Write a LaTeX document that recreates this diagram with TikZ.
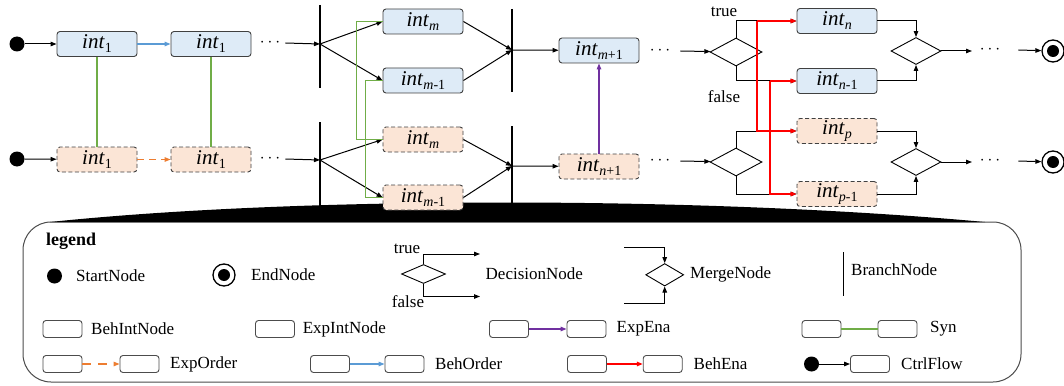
\documentclass[tikz,border=0pt]{standalone}
\usepackage{fontspec}
\setmainfont{Liberation Serif}
\usetikzlibrary{arrows.meta,shapes.geometric}

\definecolor{behfill}{RGB}{222,235,247}
\definecolor{expfill}{RGB}{251,229,214}
\definecolor{blueln}{RGB}{91,155,213}
\definecolor{orangeln}{RGB}{237,125,49}
\definecolor{greenln}{RGB}{112,173,71}
\definecolor{purpleln}{RGB}{112,48,160}

\newcommand{\intlab}[1]{\textit{int}\raisebox{-4pt}{\fontsize{14}{14}\selectfont#1}}

\begin{document}
\begin{tikzpicture}[x=1pt,y=-1pt]
\tikzstyle{every node}+=[inner sep=0pt]
\tikzstyle{lab}=[font=\fontsize{17}{19}\selectfont]
\tikzstyle{behbox}=[draw=black!75, fill=behfill, rounded corners=3pt, line width=0.9pt, minimum width=80pt, minimum height=25pt, font=\fontsize{21}{22}\selectfont]
\tikzstyle{expbox}=[behbox, fill=expfill, dash pattern=on 4pt off 2.5pt]
\tikzstyle{legbox}=[draw=black!70, fill=white, rounded corners=3pt, line width=0.9pt, minimum width=39pt, minimum height=17pt]
\tikzstyle{startnode}=[circle, fill=black, minimum size=15pt]
\tikzstyle{endnode}=[circle, draw=black, line width=1.3pt, fill=white, minimum size=22pt, path picture={\fill[black] (path picture bounding box.center) circle (6pt);}]
\tikzstyle{decision}=[diamond, draw=black, line width=0.9pt, minimum width=52pt, minimum height=28pt]
\tikzstyle{flow}=[-{Triangle[length=6pt,width=4.5pt]}, line width=1pt]
\tikzstyle{branchbar}=[line width=2pt]
\tikzstyle{behorder}=[flow, draw=blueln, line width=1.2pt]
\tikzstyle{exporder}=[flow, draw=orangeln, line width=1.2pt, dash pattern=on 7pt off 5pt]
\tikzstyle{expena}=[flow, draw=purpleln, line width=1.2pt]
\tikzstyle{behena}=[flow, draw=red, line width=1.4pt]
\tikzstyle{syn}=[draw=greenln, line width=1.8pt]
\useasboundingbox (0,0) rectangle (1064,385);

% legend frame
\draw [draw=black!70, fill=white, line width=1pt, rounded corners=28pt] (23,222) rectangle (1021,382);
\fill [black] (50,222) .. controls (300,196) and (700,196) .. (985,222) -- cycle;

% branch bars
\draw [branchbar] (320,5) -- (320,88);
\draw [branchbar] (512,9) -- (512,92);
\draw [branchbar] (320,122) -- (320,215);
\draw [branchbar] (512,126) -- (512,205);
\coordinate (j1) at (320,44);
\coordinate (j2) at (512,50);
\coordinate (j3) at (320,160);
\coordinate (j4) at (512,166);

% behaviour row
\node [startnode] (s1) at (17,44) {};
\node [behbox] (bA1) at (97,44) {\intlab{1}};
\node [behbox] (bA2) at (211,44) {\intlab{1}};
\node [lab] (dA1) at (270,43) {$\cdots$};
\node [behbox] (bm) at (423,21.5) {\intlab{\textit{m}}};
\node [behbox] (bm1) at (423,80.5) {\intlab{\textit{m}-1}};
\node [behbox] (bm2) at (599,50.5) {\intlab{\textit{m}+1}};
\node [lab] (dA2) at (660,51) {$\cdots$};
\node [decision] (decA) at (736,52) {};
\node [behbox] (bn) at (837,21) {\intlab{\textit{n}}};
\node [behbox] (bn1) at (837,81) {\intlab{\textit{n}-1}};
\node [decision, minimum width=50pt, minimum height=27pt] (merA) at (916,51) {};
\coordinate (oA) at (972,51);
\node [lab] (dA3) at (990,50) {$\cdots$};
\node [endnode] (eA) at (1053,51) {};
\node [lab] at (724,12) {true};
\node [lab] at (724,97) {false};

% expectation row
\node [startnode] (s2) at (17,159) {};
\node [expbox] (eA1) at (97,159.5) {\intlab{1}};
\node [expbox] (eA2) at (211,159.5) {\intlab{1}};
\node [lab] (dB1) at (270,159) {$\cdots$};
\node [expbox] (em) at (423,139.5) {\intlab{\textit{m}}};
\node [expbox] (em1) at (423,197.5) {\intlab{\textit{m}-1}};
\node [expbox] (em2) at (599,166.5) {\intlab{\textit{n}+1}};
\node [lab] (dB2) at (660,161) {$\cdots$};
\node [decision] (decB) at (736,162) {};
\node [expbox] (ep) at (837,131) {\intlab{\textit{p}}};
\node [expbox] (ep1) at (837,194) {\intlab{\textit{p}-1}};
\node [decision, minimum width=50pt, minimum height=27pt] (merB) at (916,162) {};
\coordinate (oB) at (972,162);
\node [lab] (dB3) at (990,161) {$\cdots$};
\node [endnode] (eB) at (1053,162) {};

% control flow
\draw [flow] (s1) -- (bA1);
\draw [behorder] (bA1) -- (bA2);
\draw [flow] ([xshift=5pt]dA1.east) -- (j1);
\draw [flow] (j1) -- (bm.west);
\draw [flow] (j1) -- (bm1.west);
\draw [flow] (bm.east) -- (j2);
\draw [flow] (bm1.east) -- (j2);
\draw [flow] (j2) -- (bm2);
\draw [flow] ([xshift=10pt]dA2.east) -- (decA);
\draw [flow] (decA.north) |- (bn.west);
\draw [flow] (decA.south) |- (bn1.west);
\draw [flow] (bn.east) -| (merA.north);
\draw [flow] (bn1.east) -| (merA.south);
\draw [flow] (merA) -- (oA);
\draw [flow] ([xshift=18pt]dA3.east) -- (eA);

\draw [flow] (s2) -- (eA1);
\draw [exporder] (eA1) -- (eA2);
\draw [flow] ([xshift=5pt]dB1.east) -- (j3);
\draw [flow] (j3) -- (em.west);
\draw [flow] (j3) -- (em1.west);
\draw [flow] (em.east) -- (j4);
\draw [flow] (em1.east) -- (j4);
\draw [flow] (j4) -- (em2);
\draw [flow] ([xshift=10pt]dB2.east) -- (decB);
\draw [flow] (decB.north) |- (ep.west);
\draw [flow] (decB.south) |- (ep1.west);
\draw [flow] (ep.east) -| (merB.north);
\draw [flow] (ep1.east) -| (merB.south);
\draw [flow] (merB) -- (oB);
\draw [flow] ([xshift=18pt]dB3.east) -- (eB);

% synchronisation and enabling
\draw [syn] (bA1) -- (eA1);
\draw [syn] (bA2) -- (eA2);
\draw [syn] (bm.west) -- ++(-26,0) |- (em.west);
\draw [syn] (bm1.west) -- ++(-17,0) |- (em1.west);
\draw [expena] (em2) -- (bm2);
\coordinate (r1) at (757,21);
\coordinate (r2) at (770,81);
\draw [behena] (r1) -- (bn.west);
\draw [behena] (r1) |- (ep.west);
\draw [behena] (r2) -- (bn1.west);
\draw [behena] (r2) |- (ep1.west);

% legend
\node [anchor=west, font=\fontsize{18}{20}\selectfont\bfseries] at (46,241) {legend};
\node [startnode] (lst) at (54.5,276) {};
\node [lab, anchor=west] at (76,276) {StartNode};
\node [endnode] (len) at (224,275) {};
\node [lab, anchor=west] at (251,275) {EndNode};
\node [decision, minimum width=44pt, minimum height=19pt] (ldec) at (423.5,274) {};
\coordinate (ldt) at (480,254);
\coordinate (ldf) at (480,296.5);
\draw [flow] (ldec.north) |- (ldt);
\draw [flow] (ldec.south) |- (ldf);
\node [lab] at (407,249) {true};
\node [lab] at (408,302) {false};
\node [lab, anchor=west] at (485.5,274) {DecisionNode};
\node [decision, minimum width=38pt, minimum height=22.5pt] (lmer) at (664.7,274.8) {};
\coordinate (lmt) at (624,247.5);
\coordinate (lmb) at (624,303);
\draw [flow] (lmt) -| (lmer.north);
\draw [flow] (lmb) -| (lmer.south);
\node [lab, anchor=west] at (690,274) {MergeNode};
\draw [line width=1.5pt] (843.7,252) -- (843.7,295.5);
\node [lab, anchor=west] at (851,270) {BranchNode};

\node [legbox] (lbeh) at (62.5,329) {};
\node [lab, anchor=west] at (91,329) {BehIntNode};
\node [legbox] (lexp) at (275,329) {};
\node [lab, anchor=west] at (302.6,329) {ExpIntNode};
\node [legbox] (lea1) at (509,329) {};
\node [legbox] (lea2) at (586.5,329) {};
\draw [expena] (lea1) -- (lea2);
\node [lab, anchor=west] at (616.5,329) {ExpEna};
\node [legbox] (lsy1) at (821.5,329) {};
\node [legbox] (lsy2) at (897.5,329) {};
\draw [syn] (lsy1) -- (lsy2);
\node [lab, anchor=west] at (930,329) {Syn};

\node [legbox] (leo1) at (62.5,364) {};
\node [legbox] (leo2) at (139.5,364) {};
\draw [exporder, dash pattern=on 9pt off 7pt] (leo1) -- (leo2);
\node [lab, anchor=west] at (170,364) {ExpOrder};
\node [legbox] (lbo1) at (330,364) {};
\node [legbox] (lbo2) at (404.5,364) {};
\draw [behorder] (lbo1) -- (lbo2);
\node [lab, anchor=west] at (435,364) {BehOrder};
\node [legbox] (lbe1) at (587,364) {};
\node [legbox] (lbe2) at (662.7,364) {};
\draw [behena] (lbe1) -- (lbe2);
\node [lab, anchor=west] at (693.5,364) {BehEna};
\node [startnode] (lcf) at (811.5,364) {};
\node [legbox] (lcf2) at (870,364) {};
\draw [flow] (lcf) -- (lcf2);
\node [lab, anchor=west] at (901,364) {CtrlFlow};
\end{tikzpicture}
\end{document}
